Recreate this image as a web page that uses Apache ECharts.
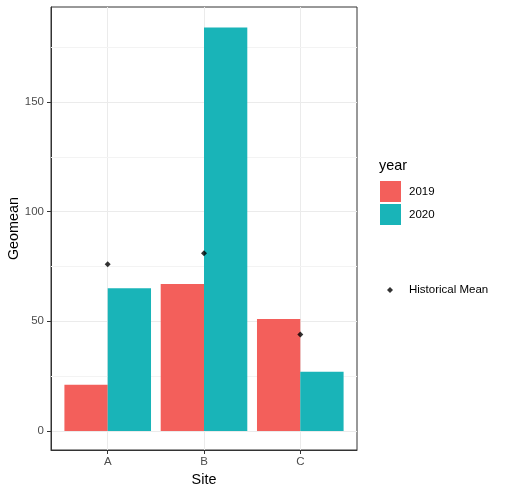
<!DOCTYPE html>
<html>
<head>
<meta charset="utf-8">
<script src="https://cdn.jsdelivr.net/npm/echarts@6/dist/echarts.min.js"></script>
<style>
html, body { margin: 0; padding: 0; background: #fff; }
#main { width: 505px; height: 493px; }
</style>
</head>
<body>
<div id="main"></div>
<script>
// data
const sites = ['A', 'B', 'C'];
const years = ['2019', '2020'];
const geo2019 = [21, 67, 51];
const geo2020 = [65, 184, 27];
const histMean = [76, 81, 44];
const yTicks = [0, 50, 100, 150];
const yMinor = [25, 75, 125, 175];

const font = 'Liberation Sans, Arial, sans-serif';
const colors = ['#F35F5B', '#19B4B8'];
const sitePos = sites.map((s, i) => i + 1);

const chart = echarts.init(document.getElementById('main'));

const option = {
    backgroundColor: '#fff',
    animation: false,
    textStyle: { fontFamily: font },
    grid: {
        left: 51, right: 148, top: 7, bottom: 43,
        outerBoundsMode: 'none', containLabel: false,
        show: true, borderColor: '#333', borderWidth: 1
    },
    graphic: [
        {
            type: 'text', left: 379, top: 159,
            style: { text: 'year', fontSize: 14.4, fontFamily: font, fill: '#000' }
        }
    ],
    legend: [
        {
            data: years,
            orient: 'vertical', left: 380, top: 181, padding: 0,
            itemWidth: 21, itemHeight: 21, itemGap: 2,
            icon: 'rect',
            textStyle: { fontSize: 11.5, color: '#000', padding: [0, 0, 0, 3] }
        },
        {
            data: [{ name: 'Historical Mean', icon: 'diamond' }],
            left: 387, top: 284, padding: 0,
            itemWidth: 6, itemHeight: 6,
            textStyle: { fontSize: 11.5, color: '#000', padding: [0, 0, 0, 11] }
        }
    ],
    xAxis: {
        type: 'value',
        min: 0.411, max: 3.589,
        name: 'Site', nameLocation: 'middle', nameGap: 23, nameMoveOverlap: false,
        nameTextStyle: { fontSize: 14.4, color: '#000' },
        axisLine: { show: true, onZero: false, lineStyle: { color: '#333' } },
        axisTick: { show: true, length: 4, customValues: sitePos, lineStyle: { color: '#333' } },
        axisLabel: {
            customValues: sitePos, margin: 6, fontSize: 11.5, color: '#4D4D4D',
            formatter: v => sites[Math.round(v) - 1] || ''
        },
        splitLine: { show: true, lineStyle: { color: '#EBEBEB', width: 1 } }
    },
    yAxis: {
        type: 'value',
        min: -8.7, max: 193.3,
        name: 'Geomean', nameLocation: 'middle', nameGap: 30, nameMoveOverlap: false,
        nameTextStyle: { fontSize: 14.4, color: '#000' },
        axisLine: { show: true, onZero: false, lineStyle: { color: '#333' } },
        axisTick: { show: true, length: 4, customValues: yTicks, lineStyle: { color: '#333' } },
        axisLabel: { customValues: yTicks, margin: 7, fontSize: 11.5, color: '#4D4D4D' },
        splitLine: { show: true, lineStyle: { color: '#EBEBEB', width: 1 } }
    },
    series: [
        {
            name: years[0], type: 'bar',
            data: sitePos.map((x, i) => [x, geo2019[i]]),
            barWidth: 43.3, barGap: '0%',
            itemStyle: { color: colors[0] },
            markLine: {
                silent: true, symbol: 'none', z: 1,
                label: { show: false },
                lineStyle: { color: '#F3F3F3', width: 1, type: 'solid' },
                data: yMinor.map(v => ({ yAxis: v }))
            }
        },
        {
            name: years[1], type: 'bar',
            data: sitePos.map((x, i) => [x, geo2020[i]]),
            barWidth: 43.3, barGap: '0%',
            itemStyle: { color: colors[1] }
        },
        {
            name: 'Historical Mean', type: 'scatter',
            data: sitePos.map((x, i) => [x, histMean[i]]),
            symbol: 'diamond', symbolSize: 6, z: 5,
            itemStyle: { color: '#000' }
        }
    ]
};

chart.setOption(option);
</script>
</body>
</html>
